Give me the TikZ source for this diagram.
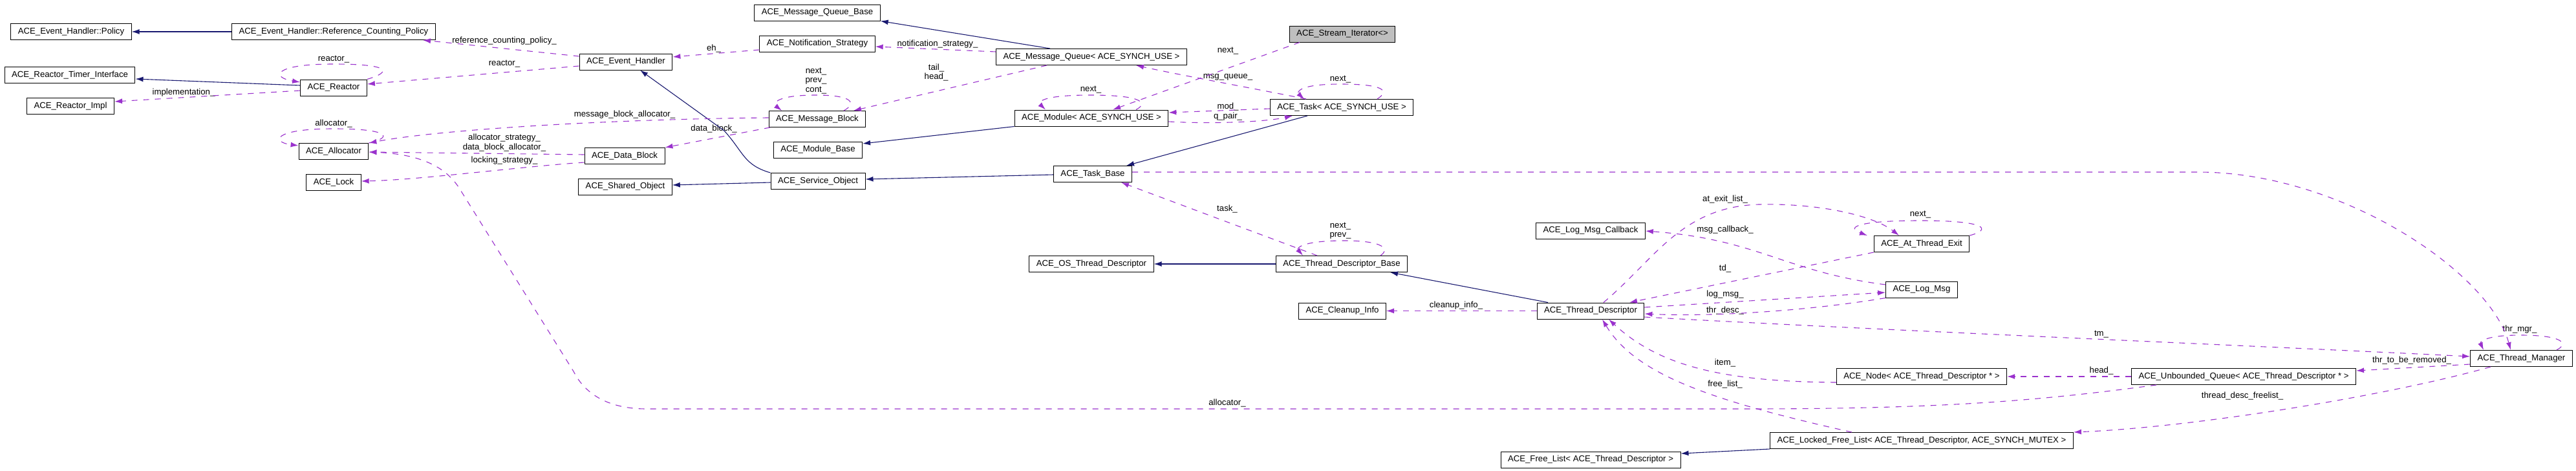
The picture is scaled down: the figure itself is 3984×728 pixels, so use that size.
\documentclass[tikz,border=0pt]{standalone}
\usepackage{fontspec}
\setmainfont{Liberation Sans}
\usepackage{tikz}
\usetikzlibrary{arrows.meta}
\definecolor{edgenavy}{HTML}{191970}
\definecolor{edgeorchid}{HTML}{9A32CD}
\definecolor{boxgray}{HTML}{BFBFBF}
\newcommand{\dxfont}{\fontsize{13.2}{14.5}\selectfont}
\tikzstyle{cls} = [rectangle, draw, line width=1pt, fill=white, inner xsep=11pt, inner ysep=0pt, minimum height=25pt, font=\dxfont]
\tikzstyle{inherit} = [draw, line width=1.1pt, color=edgenavy, -{Latex[length=12pt,width=8pt]}]
\tikzstyle{member} = [draw, line width=1.1pt, color=edgeorchid, dash pattern=on 9pt off 9pt, -{Latex[length=12pt,width=8pt]}]
\tikzstyle{lbl} = [font=\dxfont, align=center, inner sep=0pt]

\begin{document}
\begin{tikzpicture}[x=1pt, y=-1pt]
		\useasboundingbox (0,0) rectangle (3984,728);
		% Place nodes
		\node [cls] (policy) at (110,49) {ACE\_Event\_Handler::Policy};
		\node [cls] (refpol) at (516,49) {ACE\_Event\_Handler::Reference\_Counting\_Policy};
		\node [cls] (timerif) at (108,116) {ACE\_Reactor\_Timer\_Interface};
		\node [cls] (reactor) at (516,135.5) {ACE\_Reactor};
		\node [cls] (reactimpl) at (109,164) {ACE\_Reactor\_Impl};
		\node [cls] (alloc) at (516,234) {ACE\_Allocator};
		\node [cls] (lock) at (516,282) {ACE\_Lock};
		\node [cls] (evh) at (968,95.5) {ACE\_Event\_Handler};
		\node [cls] (datablock) at (966,241) {ACE\_Data\_Block};
		\node [cls] (sharedobj) at (967,288.5) {ACE\_Shared\_Object};
		\node [cls] (mqbase) at (1264,19.5) {ACE\_Message\_Queue\_Base};
		\node [cls] (notif) at (1264,67.5) {ACE\_Notification\_Strategy};
		\node [cls] (msgblock) at (1264,184) {ACE\_Message\_Block};
		\node [cls] (modbase) at (1265,231.5) {ACE\_Module\_Base};
		\node [cls] (svcobj) at (1265,280) {ACE\_Service\_Object};
		\node [cls] (mq) at (1688,88) {ACE\_Message\_Queue< ACE\_SYNCH\_USE >};
		\node [cls] (module) at (1688,182.5) {ACE\_Module< ACE\_SYNCH\_USE >};
		\node [cls] (taskbase) at (1690,269) {ACE\_Task\_Base};
		\node [cls] (osthread) at (1688,408) {ACE\_OS\_Thread\_Descriptor};
		\node [cls, fill=boxgray] (streamit) at (2076,52.5) {ACE\_Stream\_Iterator<>};
		\node [cls] (task) at (2075,166) {ACE\_Task< ACE\_SYNCH\_USE >};
		\node [cls] (tdbase) at (2075,408) {ACE\_Thread\_Descriptor\_Base};
		\node [cls] (cleanup) at (2076,480.5) {ACE\_Cleanup\_Info};
		\node [cls] (logcb) at (2460,356.5) {ACE\_Log\_Msg\_Callback};
		\node [cls] (thrdesc) at (2460,480.5) {ACE\_Thread\_Descriptor};
		\node [cls] (freelist) at (2460,710.5) {ACE\_Free\_List< ACE\_Thread\_Descriptor >};
		\node [cls] (atexit) at (2972,377) {ACE\_At\_Thread\_Exit};
		\node [cls] (logmsg) at (2972,447.5) {ACE\_Log\_Msg};
		\node [cls] (tdnode) at (2972,582) {ACE\_Node< ACE\_Thread\_Descriptor * >};
		\node [cls] (lockedfl) at (2972,681) {ACE\_Locked\_Free\_List< ACE\_Thread\_Descriptor, ACE\_SYNCH\_MUTEX >};
		\node [cls] (uqueue) at (3470,582) {ACE\_Unbounded\_Queue< ACE\_Thread\_Descriptor * >};
		\node [cls] (thrmgr) at (3899.5,554) {ACE\_Thread\_Manager};
		% Place labels
		\node [lbl] (l-refpol) at (780,63) {reference\_counting\_policy\_};
		\node [lbl] (l-reactor) at (780,99) {reactor\_};
		\node [lbl] (l-reactorloop) at (516,92) {reactor\_};
		\node [lbl] (l-impl) at (284,143) {implementation\_};
		\node [lbl] (l-allocloop) at (516,191) {allocator\_};
		\node [lbl] (l-mballoc) at (966,177) {message\_block\_allocator\_};
		\node [lbl] (l-datablock) at (1104,199) {data\_block\_};
		\node [lbl] (l-dballoc) at (780,220.5) {allocator\_strategy\_\\data\_block\_allocator\_};
		\node [lbl] (l-locking) at (780,248) {locking\_strategy\_};
		\node [lbl] (l-eh) at (1104,75) {eh\_};
		\node [lbl] (l-mbloop) at (1262,125) {next\_\\prev\_\\cont\_};
		\node [lbl] (l-notif) at (1450,68) {notification\_strategy\_};
		\node [lbl] (l-tailhead) at (1448,112) {tail\_\\head\_};
		\node [lbl] (l-sinext) at (1899,79) {next\_};
		\node [lbl] (l-msgq) at (1899,119) {msg\_queue\_};
		\node [lbl] (l-modloop) at (1687,139) {next\_};
		\node [lbl] (l-taskloop) at (2073,123) {next\_};
		\node [lbl] (l-mod) at (1899,165) {mod\_};
		\node [lbl] (l-qpair) at (1899,180) {q\_pair\_};
		\node [lbl] (l-task) at (1898,323) {task\_};
		\node [lbl] (l-tdbloop) at (2073,356.5) {next\_\\prev\_};
		\node [lbl] (l-cleanup) at (2252,472) {cleanup\_info\_};
		\node [lbl] (l-atexit) at (2668,308) {at\_exit\_list\_};
		\node [lbl] (l-msgcb) at (2668,355) {msg\_callback\_};
		\node [lbl] (l-td) at (2668,415) {td\_};
		\node [lbl] (l-logmsg) at (2668,455) {log\_msg\_};
		\node [lbl] (l-thrdesc) at (2668,480) {thr\_desc\_};
		\node [lbl] (l-item) at (2668,561) {item\_};
		\node [lbl] (l-freelist) at (2668,594) {free\_list\_};
		\node [lbl] (l-ateloop) at (2970,332) {next\_};
		\node [lbl] (l-tm) at (3250,517) {tm\_};
		\node [lbl] (l-head) at (3250,573) {head\_};
		\node [lbl] (l-toremove) at (3730,557) {thr\_to\_be\_removed\_};
		\node [lbl] (l-freelistmgr) at (3468,612) {thread\_desc\_freelist\_};
		\node [lbl] (l-thrmgr) at (3897,509) {thr\_mgr\_};
		\node [lbl] (l-alloc) at (1898,623) {allocator\_};
		% Draw edges
		\path [inherit] (refpol) -- (policy);
		\path [inherit] (reactor.west |- 0,132) -- (timerif.east |- 0,122);
		\path [inherit] (svcobj.north west) .. controls (1150,255) and (1150,235) .. (1120,202) -- (990,0 |- evh.south);
		\path [inherit] (svcobj.west |- 0,282) -- (sharedobj.east |- 0,286);
		\path [inherit] (1624,0 |- mq.north) -- (mqbase.south east);
		\path [inherit] (module.south west) -- (modbase.east |- 0,222);
		\path [inherit] (taskbase.west |- 0,270) -- (svcobj.east |- 0,277);
		\path [inherit] (2022,0 |- task.south) -- (1742,0 |- taskbase.north);
		\path [inherit] (tdbase) -- (osthread);
		\path [inherit] (2394,0 |- thrdesc.north) -- (2150,0 |- tdbase.south);
		\path [inherit] (lockedfl.south west) -- (freelist.east |- 0,701);
		\path [member] (evh.west |- 0,87) -- (654,0 |- refpol.south);
		\path [member] (evh.west |- 0,102) -- (reactor.east |- 0,130);
		\path [member] (reactor.west |- 0,140) -- (reactimpl.east |- 0,157);
		\path [member] (reactor.north east) .. controls (610,110) and (600,99) .. (516,99) .. controls (420,99) and (420,120) .. (reactor.west |- 0,127);
		\path [member] (alloc.north east) .. controls (610,212) and (600,199) .. (516,199) .. controls (420,199) and (420,220) .. (alloc.west |- 0,225);
		\path [member] (msgblock.west |- 0,182) .. controls (950,184) and (680,200) .. (alloc.east |- 0,221);
		\path [member] (datablock.west |- 0,239) -- (alloc.east |- 0,235);
		\path [member] (datablock.west |- 0,251) .. controls (800,258) and (650,278) .. (lock.east |- 0,280);
		\path [member] (1191,0 |- msgblock.south) -- (datablock.north east);
		\path [member] (1305,0 |- msgblock.north) .. controls (1325,160) and (1320,147) .. (1262,147) .. controls (1200,147) and (1195,160) .. (1209,0 |- msgblock.north);
		\path [member] (1619,0 |- mq.south) -- (1320,0 |- msgblock.north);
		\path [member] (mq.west |- 0,80) -- (notif.east |- 0,72);
		\path [member] (notif.west |- 0,77) -- (evh.east |- 0,88);
		\path [member] (2010,0 |- streamit.south) -- (1721,0 |- module.north);
		\path [member] (2020,0 |- task.north) .. controls (1930,135) and (1820,115) .. (1757,0 |- mq.south);
		\path [member] (1757,0 |- module.north) .. controls (1775,160) and (1770,147) .. (1686,147) .. controls (1610,147) and (1605,158) .. (1617,0 |- module.north);
		\path [member] (task.west |- 0,168) -- (module.east |- 0,174);
		\path [member] (module.east |- 0,188) .. controls (1880,192) and (1960,188) .. (1999,0 |- task.south);
		\path [member] (2130,0 |- task.north) .. controls (2150,140) and (2140,130) .. (2073,130) .. controls (2010,130) and (2005,142) .. (2017,0 |- task.north);
		\path [member] (taskbase.east |- 0,266) -- (3400,266) .. controls (3620,266) and (3850,420) .. (3883,0 |- thrmgr.north);
		\path [member] (3954,0 |- thrmgr.north) .. controls (3975,530) and (3960,518) .. (3898,518) .. controls (3845,518) and (3835,528) .. (3841,0 |- thrmgr.north);
		\path [member] (2037,0 |- tdbase.north) -- (1734,0 |- taskbase.south);
		\path [member] (2135,0 |- tdbase.north) .. controls (2150,385) and (2140,372) .. (2079,372) .. controls (2015,372) and (2005,383) .. (2015,0 |- tdbase.north);
		\path [member] (thrdesc) -- (cleanup);
		\path [member] (logmsg.west |- 0,440) .. controls (2760,420) and (2720,370) .. (logcb.east |- 0,357);
		\path [member] (atexit.south west) -- (2520,0 |- thrdesc.north);
		\path [member] (thrdesc.east |- 0,475) -- (logmsg.west |- 0,452);
		\path [member] (logmsg.south west) .. controls (2800,480) and (2650,490) .. (thrdesc.east |- 0,485);
		\path [member] (thrdesc.east |- 0,490) .. controls (2900,510) and (3500,535) .. (thrmgr.west |- 0,551);
		\path [member] (2480,0 |- thrdesc.north) .. controls (2560,400) and (2600,320) .. (2720,316) .. controls (2820,314) and (2900,335) .. (2937,0 |- atexit.north);
		\path [member] (atexit.north east) .. controls (3080,355) and (3075,341) .. (2970,341) .. controls (2870,341) and (2855,352) .. (2888,0 |- atexit.north);
		\path [member] (tdnode.west |- 0,591) .. controls (2650,590) and (2560,560) .. (2488,0 |- thrdesc.south);
		\path [member] (2864,0 |- lockedfl.north) .. controls (2650,620) and (2530,580) .. (2478,0 |- thrdesc.south);
		\path [member] (uqueue) -- (tdnode);
		\path [member] (thrmgr.west |- 0,563) -- (uqueue.east |- 0,573);
		\path [member] (3852,0 |- thrmgr.south) .. controls (3700,610) and (3400,660) .. (lockedfl.north east);
		\path [member] (3335,0 |- uqueue.south) .. controls (3150,620) and (3000,632) .. (2700,632) -- (1000,632) .. controls (930,632) and (900,600) .. (887,574) -- (711,292) .. controls (690,258) and (650,238) .. (alloc.east |- 0,235);
	\end{tikzpicture}
\end{document}
